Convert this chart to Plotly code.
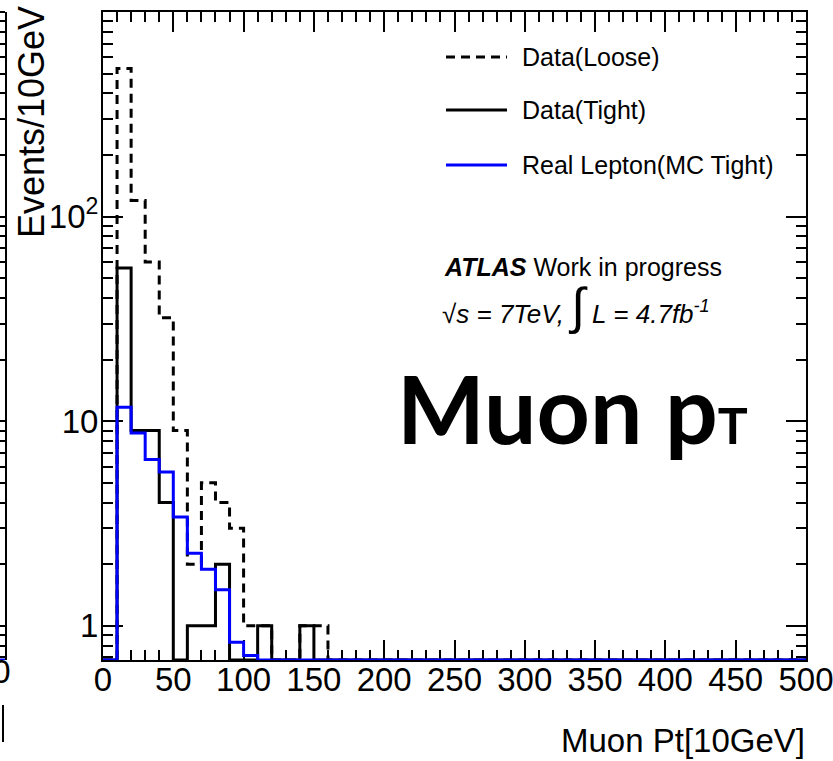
import numpy as np
import plotly.graph_objects as go

W, H = 833, 761

# ---------------- data ----------------
bin_edges = list(range(0, 510, 10))            # Muon Pt bins (50 bins, 0..500)
loose_counts = [0, 530, 120, 60, 32, 9, 2, 5, 4, 3, 1, 1, 0, 0, 1, 1] + [0] * 34
tight_counts = [0, 56, 9, 9, 4, 0, 1, 1, 2, 0, 0, 1, 0, 0, 1] + [0] * 35
mc_counts = [0, 11.7, 8.75, 6.5, 5.65, 3.4, 2.26, 1.89, 1.5, 0.83, 0.715] + [0] * 39

series_names = ["Data(Loose)", "Data(Tight)", "Real Lepton(MC Tight)"]
x_tick_vals = list(range(0, 550, 50))
y_tick_vals = [1, 10, 100]
y_tick_text = ["1", "10", "10<sup>2</sup>"]
y_minor_vals = [0.7, 0.8, 0.9] + [m * 10 ** d for d in range(0, 3) for m in range(2, 10)]

YMIN, YMAX = 0.68, 1000.0
FONT = "Liberation Sans, Arial, Helvetica, sans-serif"

PLOT_L, PLOT_R, PLOT_T, PLOT_B = 103, 806, 12, 660


def px(x):
    return x / W


def py(y):
    return 1 - y / H


def step_y(vals):
    y = [v if v > 0 else YMIN for v in vals]
    return y + [y[-1]]


fig = go.Figure()
styles = [
    dict(color="black", width=3, dash="9px,6px"),
    dict(color="black", width=3),
    dict(color="#0000ff", width=3),
]
for name, vals, st in zip(series_names, [loose_counts, tight_counts, mc_counts], styles):
    fig.add_trace(go.Scatter(x=bin_edges, y=step_y(vals), mode="lines", line_shape="hv",
                             line=st, name=name, showlegend=False, hoverinfo="skip"))

# left neighbouring panel sliver (right edge of previous pad)
fig.add_trace(go.Scatter(x=[0, 1], y=[YMIN, YMIN], xaxis="x2", yaxis="y2", mode="lines",
                         line=dict(color="#0000ff", width=3), showlegend=False, hoverinfo="skip"))

axis_common = dict(showline=True, linecolor="black", linewidth=2, ticks="inside",
                   tickcolor="black", tickwidth=1.5, ticklen=20, showgrid=False,
                   zeroline=False, automargin=False, layer="below traces",
                   tickfont=dict(family=FONT, size=33, color="black"))

fig.update_layout(
    template="none",
    width=W, height=H,
    margin=dict(l=0, r=0, t=0, b=0),
    paper_bgcolor="white", plot_bgcolor="white",
    showlegend=False,
    xaxis=dict(domain=[px(PLOT_L), px(PLOT_R)], range=[0, 500], anchor="y", mirror="allticks",
               tickmode="array", tickvals=x_tick_vals, ticklabeloverflow="allow",
               minor=dict(ticks="inside", ticklen=10, tickwidth=1.5, tickcolor="black",
                          dtick=10, tick0=0, showgrid=False),
               ticklabelstandoff=-11, **axis_common),
    yaxis=dict(domain=[py(PLOT_B), py(PLOT_T)], type="log", range=[np.log10(YMIN), np.log10(YMAX)],
               anchor="x", mirror="allticks", tickmode="array", tickvals=y_tick_vals,
               ticktext=y_tick_text,
               minor=dict(ticks="inside", ticklen=10, tickwidth=1.5, tickcolor="black",
                          tickmode="array", tickvals=y_minor_vals, showgrid=False),
               ticklabelstandoff=-4, **axis_common),
    xaxis2=dict(domain=[0, px(5)], range=[0, 1], anchor="y2", showline=False, ticks="",
                tickmode="array", tickvals=[0.3], ticktext=["0"], showgrid=False,
                zeroline=False, automargin=False, ticklabelstandoff=-11, ticklabeloverflow="allow",
                tickfont=dict(family=FONT, size=33, color="black")),
    yaxis2=dict(domain=[py(PLOT_B), py(PLOT_T)], type="log", range=[np.log10(YMIN), np.log10(YMAX)],
                anchor="x2", side="right", showline=True, linecolor="black", linewidth=2,
                ticks="inside", ticklen=20, tickwidth=1.5, tickcolor="black",
                tickmode="array", tickvals=y_tick_vals, showticklabels=False,
                minor=dict(ticks="inside", ticklen=10, tickwidth=1.5, tickcolor="black",
                           tickmode="array", tickvals=y_minor_vals, showgrid=False),
                showgrid=False, zeroline=False, automargin=False),
)

shapes = [
    dict(type="line", xref="paper", yref="paper", x0=px(0), x1=px(5), y0=py(PLOT_T), y1=py(PLOT_T),
         line=dict(color="black", width=2)),
    dict(type="line", xref="paper", yref="paper", x0=px(3), x1=px(3), y0=py(705), y1=py(742),
         line=dict(color="black", width=2)),
]
# manual legend
leg_y = [57, 110, 165]
for yy, st in zip(leg_y, styles):
    shapes.append(dict(type="line", xref="paper", yref="paper", x0=px(446), x1=px(507),
                       y0=py(yy), y1=py(yy), line=st))
fig.update_layout(shapes=shapes)

ann = []
for yy, name in zip(leg_y, series_names):
    ann.append(dict(x=px(520), y=py(yy), xref="paper", yref="paper", text=name,
                    showarrow=False, xanchor="left", yanchor="middle",
                    font=dict(family=FONT, size=25, color="black")))
ann += [
    dict(x=px(442), y=py(267), xref="paper", yref="paper",
         text="<b><i>ATLAS</i></b> Work in progress", showarrow=False,
         xanchor="left", yanchor="middle", font=dict(family=FONT, size=25, color="black")),
    dict(x=px(440), y=py(306), xref="paper", yref="paper",
         text="<i>√s = 7TeV, </i><span style='font-size:50px'><i>∫</i></span><i> L = 4.7fb<sup>-1</sup></i>",
         showarrow=False, xanchor="left", yanchor="middle",
         font=dict(family=FONT, size=26, color="black")),
    dict(x=px(395), y=py(408), xref="paper", yref="paper",
         text="<b>Muon p<span style='font-size:50px'>T</span></b>", showarrow=False,
         xanchor="left", yanchor="middle", font=dict(family="Lato", size=93, color="black")),
    dict(x=px(31), y=py(4), xref="paper", yref="paper", text="Events/10GeV", textangle=-90,
         showarrow=False, xanchor="center", yanchor="top",
         font=dict(family=FONT, size=36, color="black")),
    dict(x=px(807), y=py(740), xref="paper", yref="paper", text="Muon Pt[10GeV]",
         showarrow=False, xanchor="right", yanchor="middle",
         font=dict(family=FONT, size=33, color="black")),
]
fig.update_layout(annotations=ann)

fig.write_html("out.html")
